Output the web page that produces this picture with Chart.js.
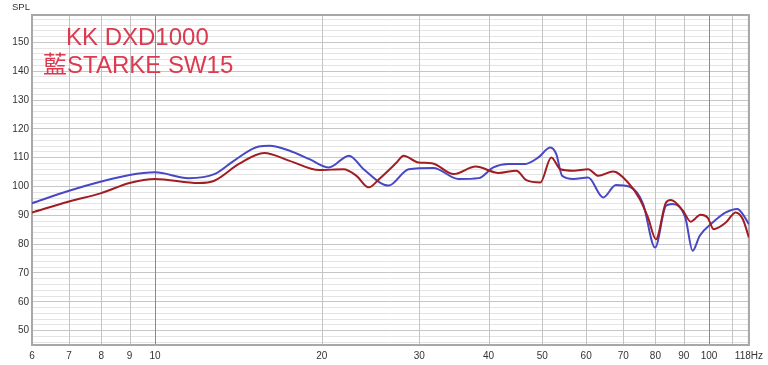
<!DOCTYPE html>
<html>
<head>
<meta charset="utf-8">
<script src="https://cdn.jsdelivr.net/npm/chart.js@4"></script>
<style>
  html, body { margin: 0; background: #fff; }
</style>
</head>
<body>
<canvas id="chart" width="768" height="365"></canvas>
<script>
// blue: STARKE SW15, red: KK DXD1000
const blueFreq = [6, 7, 8, 9, 10, 11.5, 12.8, 13.9, 15.4, 16.1, 17.5, 19, 20.6, 22.4, 23.8, 26.4, 28.7, 31.8, 35.3, 38.4, 40.8, 43.4, 46.6, 49.2, 51.7, 53, 54.3, 56.9, 60.5, 64.4, 67.9, 71.9, 76, 79.9, 83.6, 85.9, 90.6, 93.4, 96.2, 101.5, 107.2, 112.5, 115, 118];
const blueSpl = [94.2, 98.5, 101.7, 104, 104.9, 102.9, 104.3, 109, 113.9, 114.1, 112.4, 109.5, 106.6, 110.7, 106, 100.3, 106, 106.4, 102.6, 102.9, 106.6, 107.8, 107.8, 110.1, 113.5, 111.2, 103.7, 102.6, 103.1, 96.2, 100.5, 99.9, 94, 78.8, 93.3, 93.9, 89.2, 77.7, 82.9, 87.5, 91, 92.2, 90.4, 86.9];

const redFreq = [6, 7, 8, 9, 10, 12, 12.8, 14.2, 15.75, 17.5, 19.8, 21.9, 23.1, 24.3, 25.4, 27.3, 28.1, 29.9, 31.6, 34.6, 37.9, 41.7, 44.9, 46.8, 49.6, 51.9, 53.9, 56.9, 60.5, 63.1, 67.1, 71.4, 75, 77.6, 80.2, 83.6, 85.3, 89.7, 92.7, 96.5, 99.4, 101.9, 107.2, 111.7, 115, 118];
const redSpl = [91, 94.8, 97.7, 101.2, 102.6, 101.2, 102, 107.9, 111.6, 108.9, 105.7, 106, 103.7, 99.7, 102.6, 108.3, 110.7, 108.3, 108.1, 104.3, 106.9, 104.7, 105.5, 102.2, 101.4, 110.1, 106, 105.5, 106, 103.7, 105.2, 101.4, 95.6, 89.2, 81.7, 94.4, 95.3, 91.6, 87.8, 90.2, 89.2, 85.2, 87.5, 91, 88.7, 82.3];

const xTicks = [6, 7, 8, 9, 10, 20, 30, 40, 50, 60, 70, 80, 90, 100, 110, 118];
const xLabels = ['6', '7', '8', '9', '10', '20', '30', '40', '50', '60', '70', '80', '90', '100', '', '118Hz'];
const yTicks = [];
for (let v = 46; v <= 158; v += 2) yTicks.push(v);

const titleLines = ['KK DXD1000', '藍STARKE SW15'];

const toPoints = (fs, vs) => fs.map((f, i) => ({ x: f, y: vs[i] }));

const overlay = {
  id: 'overlay',
  beforeDatasetsDraw(chart) {
    const { ctx, chartArea: a } = chart;
    const xs = chart.scales.x;
    ctx.save();
    // vertical grid on top of the horizontal one
    xTicks.forEach(v => {
      const px = Math.round(xs.getPixelForValue(v)) + 0.5;
      ctx.strokeStyle = (v === 10 || v === 100) ? '#8a8a8a' : '#c4c4c4';
      ctx.lineWidth = 1;
      ctx.beginPath();
      ctx.moveTo(px, a.top);
      ctx.lineTo(px, a.bottom);
      ctx.stroke();
    });
    ctx.strokeStyle = '#a8a8a8';
    ctx.lineWidth = 2;
    ctx.strokeRect(a.left, a.top, a.right - a.left, a.bottom - a.top);
    ctx.restore();
  },
  afterDraw(chart) {
    const ctx = chart.ctx;
    ctx.save();
    ctx.fillStyle = '#333';
    ctx.font = '9.5px "Liberation Sans", Arial, sans-serif';
    ctx.textBaseline = 'middle';
    ctx.fillText('SPL', 12, 7);
    ctx.fillStyle = '#dc3a50';
    ctx.font = '24px "Liberation Sans", "Noto Sans CJK TC", sans-serif';
    ctx.textBaseline = 'alphabetic';
    ctx.fillText(titleLines[0], 66, 45);
    ctx.fillText(titleLines[1], 43, 73);
    ctx.restore();
  }
};

new Chart(document.getElementById('chart').getContext('2d'), {
  type: 'line',
  data: {
    datasets: [
      {
        label: 'KK DXD1000',
        data: toPoints(redFreq, redSpl),
        borderColor: '#a01e22',
        borderWidth: 2,
        pointRadius: 0,
        cubicInterpolationMode: 'monotone'
      },
      {
        label: 'STARKE SW15',
        data: toPoints(blueFreq, blueSpl),
        borderColor: '#4848c4',
        borderWidth: 2,
        pointRadius: 0,
        cubicInterpolationMode: 'monotone'
      }
    ]
  },
  options: {
    responsive: false,
    animation: false,
    layout: { padding: { top: 15, right: 16, left: 0, bottom: 0 } },
    plugins: {
      legend: { display: false },
      tooltip: { enabled: false }
    },
    scales: {
      x: {
        type: 'logarithmic',
        min: 6,
        max: 118,
        afterBuildTicks: s => { s.ticks = xTicks.map(v => ({ value: v })); },
        afterFit: s => { s.height = 20; },
        border: { display: false },
        grid: { display: false, drawTicks: false },
        ticks: {
          autoSkip: false,
          maxRotation: 0,
          padding: 5,
          color: '#333',
          font: { family: '"Liberation Sans", Arial, sans-serif', size: 10 },
          callback: v => xLabels[xTicks.indexOf(v)]
        }
      },
      y: {
        min: 45,
        max: 159.5,
        afterBuildTicks: s => { s.ticks = yTicks.map(v => ({ value: v })); },
        afterFit: s => { s.width = 32; },
        border: { display: false },
        grid: {
          drawTicks: false,
          color: c => (c.tick && c.tick.value % 10 === 0) ? '#c6c6c6' : '#e4e4e4',
          lineWidth: 1
        },
        ticks: {
          autoSkip: false,
          padding: 3,
          color: '#333',
          font: { family: '"Liberation Sans", Arial, sans-serif', size: 10 },
          callback: v => (v % 10 === 0 ? String(v) : '')
        }
      }
    }
  },
  plugins: [overlay]
});
</script>
</body>
</html>
